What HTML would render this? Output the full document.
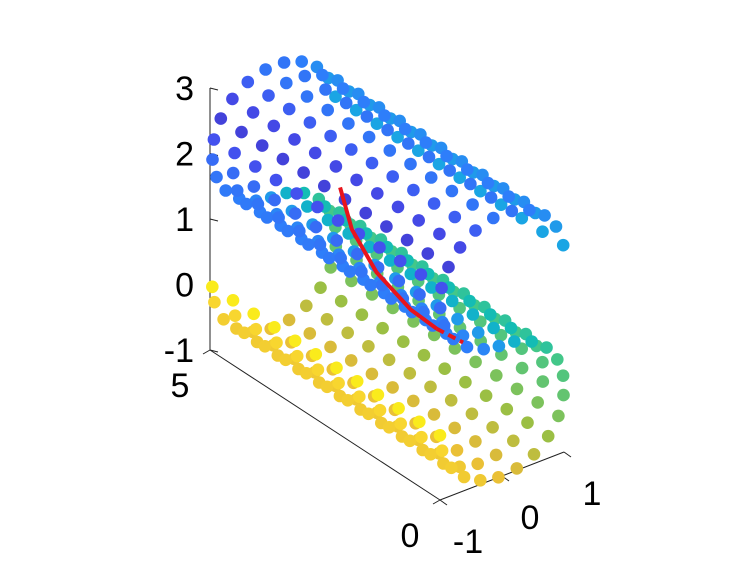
<!DOCTYPE html>
<html><head><meta charset="utf-8"><style>
body{margin:0;background:#fff;}
svg{display:block;font-family:"Liberation Sans",sans-serif;}
</style></head><body>
<svg id="chart" width="741" height="568">
<g id="axes"></g>
<g id="pts"></g>
<g id="path"></g>
</svg>
<script>
const tValues=[-4.55,-4.2,-3.9,-3.6,-3.3,-3.0,-2.7,-2.4,-2.1,-1.8,-1.5,-1.2,-0.9,-0.6,-0.3,-0.05,0.2,0.5,0.8,1.1,1.4,1.7,2.0,2.3,2.6,2.9,3.2,3.5,3.8,4.1,4.45,4.7];
const colorValues=[0.33,0.3,0.26,0.22,0.2,0.2,0.15,0.1,0.08,0.12,0.18,0.2,0.21,0.22,0.24,0.3,0.4,0.46,0.52,0.56,0.58,0.6,0.63,0.67,0.72,0.76,0.8,0.83,0.84,0.85,0.88,0.95];
const yValues=[0,0.45,0.9,1.35,1.8,2.25,2.7,3.15,3.6,4.05,4.5,4.95];
const redT=[-2.2,-1.8,-1.4,-1.0,-0.75,-0.5];
const redY=[2.43,1.95,1.4,0.85,0.5,0.2];
const zTicks=[-1,0,1,2,3], yTicks=[0,5], xTicks=[-1,0,1];

function proj(x,y,z){const a=x+1;return [440+62*a-46*y, 500-24*a-30*y-65.5*(z+1)];}
function surf(t,y){const x=Math.sin(t);const z=t<0?2-Math.cos(t):Math.cos(t);return [x,y,z];}
const parula=[[0.24,0.15,0.66],[0.27,0.3,0.93],[0.18,0.5,0.98],[0.1,0.65,0.89],[0.05,0.73,0.73],[0.25,0.78,0.55],[0.6,0.75,0.27],[0.9,0.73,0.22],[0.98,0.85,0.18],[0.98,0.98,0.05]];
function col(c){const p=c*(parula.length-1),i=Math.min(Math.floor(p),parula.length-2),f=p-i;
 const r=parula[i].map((v,k)=>Math.round(255*(v+(parula[i+1][k]-v)*f)));return `rgb(${r})`;}
const NS="http://www.w3.org/2000/svg";
function mk(tag,attrs,parent){const e=document.createElementNS(NS,tag);for(const k in attrs)e.setAttribute(k,attrs[k]);parent.appendChild(e);return e;}
const axes=document.getElementById('axes');
function line(p,q,name){const e=mk('line',{x1:p[0],y1:p[1],x2:q[0],y2:q[1],stroke:'#222','stroke-width':1},axes);

}
line(proj(-1,5,-1),proj(-1,5,3),'z-axis');
line(proj(-1,0,-1),proj(-1,5,-1),'y-axis');
line(proj(-1,0,-1),proj(1,0,-1),'x-axis');
zTicks.forEach(z=>{const p=proj(-1,5,z);line(p,[p[0]+8,p[1]+2],'z-tick');
 const t=mk('text',{x:p[0]-16,y:p[1]+12,'font-size':34,'text-anchor':'end'},axes);t.textContent=z;
 
 });
yTicks.forEach(y=>{const p=proj(-1,y,-1);line(p,[p[0]-7,p[1]+4],'y-tick');
 const t=mk('text',{x:p[0]-30,y:p[1]+47,'font-size':34,'text-anchor':'middle'},axes);t.textContent=y;
 
 });
xTicks.forEach(x=>{const p=proj(x,0,-1);line(p,[p[0]+7,p[1]+5],'x-tick');
 const t=mk('text',{x:p[0]+28,y:p[1]+53,'font-size':34,'text-anchor':'middle'},axes);t.textContent=x;
 
 });
const pts=[];
tValues.forEach((t,i)=>yValues.forEach(y=>{const [x,yy,z]=surf(t,y);const p=proj(x,yy,z);pts.push({p,c:colorValues[i],d:y*10-x*3});}));
pts.sort((a,b)=>b.d-a.d);
const g=document.getElementById('pts');
pts.forEach(o=>{const e=mk('circle',{cx:o.p[0].toFixed(1),cy:o.p[1].toFixed(1),r:6.3,fill:col(o.c)},g);

});
const pg=document.getElementById('path');
const rp=redT.map((t,i)=>{const [x,y,z]=surf(t,redY[i]);return proj(x,y,z);});
const solid=mk('polyline',{points:rp.slice(0,5).map(p=>p.join(',')).join(' '),fill:'none',stroke:'#e8141c','stroke-width':4},pg);


const dash=mk('polyline',{points:rp.slice(4).map(p=>p.join(',')).join(' '),fill:'none',stroke:'#e8141c','stroke-width':4,'stroke-dasharray':'8 5'},pg);


</script>
</body></html>
